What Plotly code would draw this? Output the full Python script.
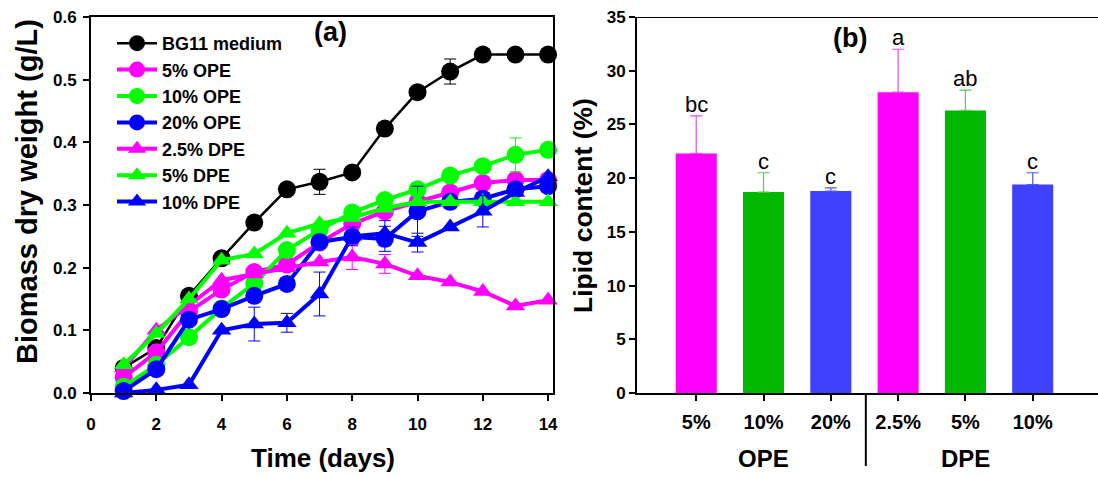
import plotly.graph_objects as go

# ---------------- Panel (a) data ----------------
days = list(range(1, 15))
series_names = ["BG11 medium", "5% OPE", "10% OPE", "20% OPE", "2.5% DPE", "5% DPE", "10% DPE"]
bg11 = [0.040, 0.072, 0.155, 0.215, 0.272, 0.325, 0.337, 0.352, 0.422, 0.480, 0.513, 0.540, 0.540, 0.540]
bg11_err = [0, 0, 0.008, 0, 0, 0, 0.020, 0, 0, 0, 0.020, 0, 0, 0]
ope5 = [0.025, 0.065, 0.130, 0.165, 0.193, 0.205, 0.240, 0.270, 0.290, 0.305, 0.320, 0.335, 0.340, 0.340]
ope5_err = [0, 0, 0, 0, 0, 0, 0, 0, 0.010, 0, 0, 0, 0.010, 0]
ope10 = [0.010, 0.045, 0.089, 0.135, 0.175, 0.228, 0.260, 0.288, 0.308, 0.325, 0.347, 0.362, 0.380, 0.388]
ope10_err = [0, 0, 0, 0, 0, 0, 0, 0, 0, 0.010, 0, 0, 0.027, 0]
ope20 = [0.003, 0.038, 0.117, 0.134, 0.155, 0.174, 0.241, 0.249, 0.246, 0.290, 0.305, 0.310, 0.325, 0.330]
ope20_err = [0, 0, 0, 0, 0, 0, 0, 0, 0.020, 0.040, 0, 0, 0, 0]
dpe25 = [0.040, 0.100, 0.140, 0.180, 0.190, 0.200, 0.209, 0.217, 0.206, 0.187, 0.177, 0.162, 0.139, 0.148]
dpe25_err = [0, 0, 0, 0, 0, 0, 0, 0.020, 0.015, 0, 0, 0, 0, 0]
dpe5 = [0.045, 0.095, 0.150, 0.212, 0.222, 0.255, 0.270, 0.280, 0.295, 0.305, 0.305, 0.305, 0.305, 0.305]
dpe5_err = [0, 0, 0, 0, 0, 0, 0, 0, 0, 0, 0, 0, 0, 0]
dpe10 = [0.000, 0.005, 0.013, 0.100, 0.110, 0.112, 0.158, 0.250, 0.255, 0.240, 0.265, 0.290, 0.320, 0.345]
dpe10_err = [0, 0, 0, 0, 0.027, 0.015, 0.035, 0.015, 0.020, 0.015, 0, 0.025, 0, 0]

series_vals = [bg11, ope5, ope10, ope20, dpe25, dpe5, dpe10]
series_errs = [bg11_err, ope5_err, ope10_err, ope20_err, dpe25_err, dpe5_err, dpe10_err]
series_colors = ["#000000", "#FF00FF", "#00FF00", "#0000FF", "#FF00FF", "#00FF00", "#0000FF"]
series_symbols = ["circle", "circle", "circle", "circle", "triangle-up", "triangle-up", "triangle-up"]
series_widths = [2.5, 4, 4, 4, 4, 4, 4]

# ---------------- Panel (b) data ----------------
bar_labels = ["5%", "10%", "20%", "2.5%", "5%", "10%"]
bar_groups = ["OPE", "DPE"]
lipid = [22.3, 18.7, 18.8, 28.0, 26.3, 19.4]
lipid_err = [3.5, 1.8, 0.3, 4.0, 1.9, 1.1]
sig_letters = ["bc", "c", "c", "a", "ab", "c"]
bar_colors = ["#FF00FF", "#00B800", "#4040FF", "#FF00FF", "#00B800", "#4040FF"]
err_colors = ["#E050E0", "#55CC55", "#5555FF", "#E050E0", "#55CC55", "#5555FF"]

W, H = 1098, 477
FONT = "Arial, Liberation Sans, sans-serif"

fig = go.Figure()

for name, vals, errs, col, sym, lw in zip(series_names, series_vals, series_errs,
                                          series_colors, series_symbols, series_widths):
    fig.add_trace(go.Scatter(
        x=days, y=vals, name=name, mode="lines+markers",
        line=dict(color=col, width=lw),
        marker=dict(color=col, symbol=sym, size=18 if sym == "circle" else 17,
                    line=dict(width=0)),
        error_y=dict(type="data", array=errs, visible=True, color=col, thickness=1, width=6),
        xaxis="x", yaxis="y", cliponaxis=False,
    ))

bar_x = list(range(len(lipid)))
for i in bar_x:
    fig.add_trace(go.Bar(
        x=[i], y=[lipid[i]], width=0.61, showlegend=False,
        marker=dict(color=bar_colors[i], line=dict(width=0)),
        error_y=dict(type="data", symmetric=False, array=[lipid_err[i]], arrayminus=[0],
                     color=err_colors[i], thickness=1.2, width=6),
        xaxis="x2", yaxis="y2",
    ))

for i in bar_x:
    fig.add_annotation(x=i, y=lipid[i] + lipid_err[i], xref="x2", yref="y2",
                       text=sig_letters[i], showarrow=False, yanchor="bottom", yshift=-3,
                       font=dict(family=FONT, size=22, color="black"))

# group labels
fig.add_annotation(x=1, y=1 - 458 / H, xref="x2", yref="paper", text="<b>OPE</b>",
                   showarrow=False, xanchor="center", yanchor="middle",
                   font=dict(family=FONT, size=24, color="black"))
fig.add_annotation(x=4, y=1 - 458 / H, xref="x2", yref="paper", text="<b>DPE</b>",
                   showarrow=False, xanchor="center", yanchor="middle",
                   font=dict(family=FONT, size=24, color="black"))
# divider between groups
fig.add_shape(type="line", xref="x2", yref="paper", x0=2.52, x1=2.52,
              y0=1 - 394 / H, y1=1 - 466 / H, line=dict(color="black", width=2))
# top border of panel b
fig.add_shape(type="line", xref="paper", yref="y2", x0=637 / W, x1=1.0, y0=35, y1=35,
              line=dict(color="black", width=2))

# panel labels
fig.add_annotation(x=2.28, y=33.0, xref="x2", yref="y2", text="<b>(b)</b>", showarrow=False,
                   xanchor="center", yanchor="middle",
                   font=dict(family=FONT, size=27, color="black"))
fig.add_annotation(x=7.35, y=0.576, xref="x", yref="y", text="<b>(a)</b>", showarrow=False,
                   xanchor="center", yanchor="middle",
                   font=dict(family=FONT, size=27, color="black"))

# axis titles
fig.add_annotation(x=27 / W, y=1 - 192 / H, xref="paper", yref="paper",
                   text="<b>Biomass dry weight (g/L)</b>", textangle=-90, showarrow=False,
                   xanchor="center", yanchor="middle",
                   font=dict(family=FONT, size=29, color="black"))
fig.add_annotation(x=323 / W, y=1 - 458 / H, xref="paper", yref="paper",
                   text="<b>Time (days)</b>", showarrow=False,
                   xanchor="center", yanchor="middle",
                   font=dict(family=FONT, size=26, color="black"))
fig.add_annotation(x=583 / W, y=1 - 206 / H, xref="paper", yref="paper",
                   text="<b>Lipid content (%)</b>", textangle=-90, showarrow=False,
                   xanchor="center", yanchor="middle",
                   font=dict(family=FONT, size=26.5, color="black"))

ydom = [1 - 393 / H, 1 - 17 / H]
tickfont = dict(family=FONT, size=17, color="black", weight="bold")

common = dict(showline=True, linecolor="black", linewidth=2, ticks="outside", ticklen=6,
              tickwidth=2, tickcolor="black", showgrid=False, zeroline=False,
              automargin=False, tickfont=tickfont)

fig.update_layout(
    width=W, height=H, margin=dict(l=0, r=0, t=0, b=0, autoexpand=False),
    paper_bgcolor="white", plot_bgcolor="white",
    font=dict(family=FONT, color="black"),
    showlegend=True,
    legend=dict(x=112 / W, y=1 - 25 / H, xanchor="left", yanchor="top",
                bgcolor="rgba(0,0,0,0)",
                font=dict(family=FONT, size=18, color="black", weight="bold"),
                tracegroupgap=0, itemwidth=40),
    xaxis=dict(domain=[91 / W, 553 / W], range=[0, 14.15], tickvals=list(range(0, 15, 2)),
               mirror=True, anchor="y", ticklabelstandoff=9, **common),
    yaxis=dict(domain=ydom, range=[0, 0.6], tickvals=[0, 0.1, 0.2, 0.3, 0.4, 0.5, 0.6],
               tickformat=".1f", mirror=True, anchor="x", ticklabelstandoff=3, **common),
    xaxis2=dict(domain=[637 / W, 1.0], range=[-0.88, 5.97], tickvals=bar_x,
                ticktext=bar_labels, anchor="y2", ticklabelstandoff=4,
                **{k: v for k, v in common.items() if k != "tickfont"},
                tickfont=dict(family=FONT, size=20, color="black", weight="bold")),
    yaxis2=dict(domain=ydom, range=[0, 35], tickvals=[0, 5, 10, 15, 20, 25, 30, 35],
                anchor="x2", **common),
)

fig.write_html("out.html", config={"displayModeBar": False},
               post_script="document.body.style.margin='0';document.body.style.overflow='hidden';")
